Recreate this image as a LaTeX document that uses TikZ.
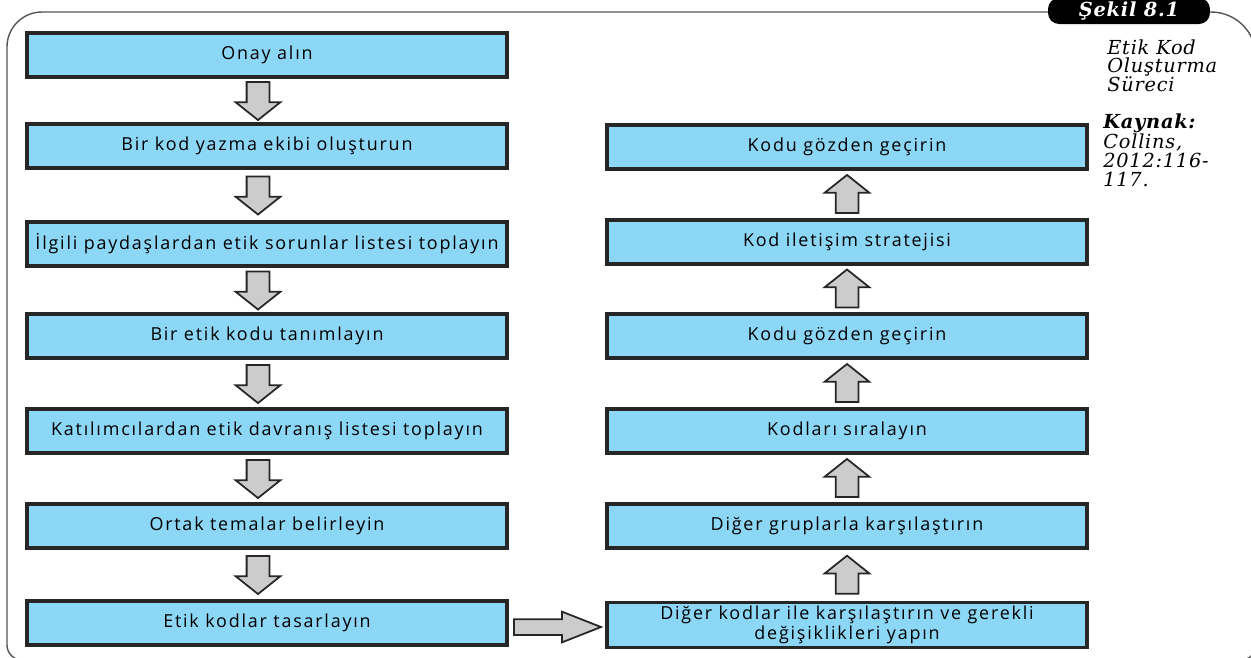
\documentclass[tikz,border=0pt]{standalone}
\usepackage{fontspec}
\setmainfont[LetterSpace=10]{Open Sans}
\newfontfamily\sidefont[LetterSpace=4]{DejaVu Serif}
\usetikzlibrary{shapes.arrows}
\usetikzlibrary{calc}
\definecolor{boxblue}{RGB}{140,214,246}
\definecolor{arrowgray}{RGB}{204,204,204}
\definecolor{framegray}{RGB}{85,85,85}
\tikzstyle{stepbox}=[rectangle,draw=black!85,line width=1.9pt,fill=boxblue,minimum width=9.6cm,minimum height=0.88cm,inner sep=2pt,align=center,font=\fontsize{10.2}{11.5}\selectfont]
\tikzstyle{downarrow}=[single arrow,draw=black!85,fill=arrowgray,line width=1pt,minimum width=0.86cm,minimum height=0.76cm,single arrow head extend=0.22cm,single arrow tip angle=103,inner xsep=0pt,inner ysep=0.21cm,rotate=-90]
\tikzstyle{uparrow}=[downarrow,rotate=180]
\tikzstyle{sidearrow}=[single arrow,draw=black!85,fill=arrowgray,line width=1pt,minimum width=0.58cm,minimum height=1.74cm,single arrow head extend=0.15cm,single arrow tip angle=43,inner xsep=0pt,inner ysep=0.14cm]
\tikzstyle{frame}=[draw=framegray,line width=0.8pt]
\tikzstyle{tab}=[rectangle,fill=black,rounded corners=0.22cm,minimum width=3.24cm,minimum height=0.52cm,inner sep=0pt,text=white,font=\sidefont\bfseries\itshape\fontsize{11}{11}\selectfont]
\tikzstyle{sidetext}=[anchor=north west,align=left,inner sep=0pt,font=\sidefont\itshape\fontsize{11}{10.6}\selectfont]

\begin{document}
\begin{tikzpicture}[x=0.02cm,y=-0.02cm]

    \useasboundingbox (0,0) rectangle (1251,657);

    % frame round the figure
    \draw[frame] (7,300) [rounded corners=0.7cm] -- (7,12) -- (600,12)
        [rounded corners=0.9cm] -- (1256,12) -- (1256,400)
        [rounded corners=0.3cm] -- (1256,660) -- (600,660)
        -- (7,660) -- (7,300);

    \node[tab] (sekil) at (1129,11) {Şekil 8.1\hspace{0.35cm}};
    \node[sidetext] (baslik) at (1107,39) {Etik Kod\\Oluşturma\\Süreci};
    \node[sidetext] (kaynak) at (1103,113) {\textbf{Kaynak:}\\Collins,\\2012:116-\\117.};

    % left column
    \foreach \y/\name/\label in {55/onay/Onay alın,
                                 146/ekip/Bir kod yazma ekibi oluşturun,
                                 244/sorun/İlgili paydaşlardan etik sorunlar listesi toplayın,
                                 336/tanim/Bir etik kodu tanımlayın,
                                 431/davranis/Katılımcılardan etik davranış listesi toplayın,
                                 526/tema/Ortak temalar belirleyin,
                                 623/tasarla/Etik kodlar tasarlayın}
        \node[stepbox] (\name) at (267,\y) {\label};

    % right column
    \foreach \y/\name/\label in {147/gozden/Kodu gözden geçirin,
                                 242/iletisim/Kod iletişim stratejisi,
                                 336/gozdenb/Kodu gözden geçirin,
                                 431/sirala/Kodları sıralayın,
                                 526/gruplar/Diğer gruplarla karşılaştırın,
                                 625/degis/Diğer kodlar ile karşılaştırın ve gerekli\\değişiklikleri yapın}
        \node[stepbox] (\name) at (847,\y) {\label};

    % block arrows between the steps
    \foreach \source/\dest in {onay/ekip, ekip/sorun, sorun/tanim, tanim/davranis, davranis/tema, tema/tasarla}
        \path (\source.south) -- node[xshift=-0.18cm,yshift=0.08cm,downarrow] {} (\dest.north);
    \foreach \source/\dest in {degis/gruplar, gruplar/sirala, sirala/gozdenb, gozdenb/iletisim, iletisim/gozden}
        \path (\source.north) -- node[yshift=-0.08cm,uparrow] {} (\dest.south);
    \path (tasarla.east) -- node[xshift=-0.19cm,yshift=-0.06cm,sidearrow] {} (degis.west);

\end{tikzpicture}
\end{document}
